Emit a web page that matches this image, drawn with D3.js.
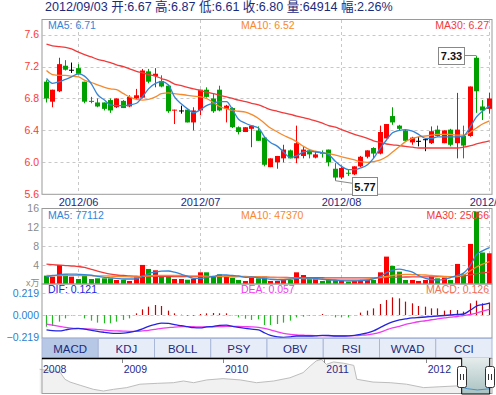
<!DOCTYPE html>
<html><head><meta charset="utf-8">
<script src="https://cdn.jsdelivr.net/npm/d3@7"></script>
<style>
body{margin:0;background:#fff;}
svg{display:block;font-family:"Liberation Sans",Arial,"Noto Sans CJK SC",sans-serif;}
</style>
</head><body>
<svg id="c" width="496" height="395"></svg>
<script>
// ---------- DATA ----------
const dates = [
"2012/05/25","2012/05/28","2012/05/29","2012/05/30","2012/05/31",
"2012/06/01","2012/06/04","2012/06/05","2012/06/06","2012/06/07","2012/06/08","2012/06/11","2012/06/12","2012/06/13","2012/06/14","2012/06/15","2012/06/18","2012/06/19","2012/06/20","2012/06/21","2012/06/25","2012/06/26","2012/06/27","2012/06/28",
"2012/07/02","2012/07/03","2012/07/04","2012/07/05","2012/07/06","2012/07/09","2012/07/10","2012/07/11","2012/07/12","2012/07/13","2012/07/16","2012/07/17","2012/07/18","2012/07/19","2012/07/20","2012/07/23","2012/07/24","2012/07/25","2012/07/26","2012/07/27","2012/07/30","2012/07/31",
"2012/08/01","2012/08/02","2012/08/03","2012/08/06","2012/08/07","2012/08/08","2012/08/09","2012/08/10","2012/08/13","2012/08/14","2012/08/15","2012/08/16","2012/08/17","2012/08/20","2012/08/21","2012/08/22","2012/08/23","2012/08/24","2012/08/27","2012/08/28","2012/08/29","2012/08/30","2012/08/31",
"2012/09/03"];
const openP = [7.01,6.76,6.89,7.21,7.16,7.18,7.01,6.77,6.75,6.75,6.78,6.69,6.77,6.70,6.80,6.81,7.14,7.08,7.02,6.96,
6.65,6.65,6.66,6.50,6.65,6.91,6.80,6.91,6.67,6.68,6.44,6.38,6.42,6.40,6.31,5.94,6.00,6.05,6.15,6.05,
6.08,6.15,6.06,6.12,6.16,5.92,5.81,5.87,5.85,5.95,6.07,6.18,6.11,6.30,6.58,6.46,6.40,6.25,6.27,6.29,
6.24,6.41,6.24,6.41,6.24,6.33,6.33,7.31,6.70,6.67];
const highP = [7.03,6.91,7.31,7.28,7.25,7.23,7.01,6.82,6.80,6.75,6.80,6.80,6.78,6.84,6.92,7.17,7.17,7.18,7.09,6.97,
6.66,6.71,6.66,6.69,6.91,6.94,6.86,6.96,6.72,6.69,6.45,6.44,6.46,6.45,6.32,6.05,6.08,6.22,6.16,6.46,
6.20,6.16,6.14,6.15,6.16,5.99,5.96,5.91,5.95,6.08,6.15,6.19,6.46,6.48,6.69,6.47,6.41,6.32,6.32,6.30,
6.45,6.46,6.40,6.42,6.87,6.46,6.95,7.33,6.78,6.87];
const lowP = [6.75,6.69,6.88,7.15,7.12,7.10,6.74,6.74,6.69,6.65,6.62,6.68,6.68,6.69,6.78,6.80,6.99,6.94,6.94,6.62,
6.48,6.61,6.50,6.40,6.59,6.81,6.62,6.64,6.50,6.43,6.35,6.38,6.19,6.27,5.95,5.94,5.92,6.00,6.05,5.99,
6.05,6.05,6.05,6.06,5.95,5.77,5.79,5.83,5.84,5.94,6.05,6.05,6.10,6.30,6.47,6.40,6.26,6.22,6.20,6.14,
6.23,6.32,6.24,6.20,6.05,6.05,6.32,6.62,6.53,6.61];
const closeP = [6.80,6.91,7.23,7.16,7.16,7.11,6.76,6.76,6.70,6.67,6.65,6.80,6.68,6.82,6.84,7.15,7.01,7.11,6.95,6.64,
6.66,6.65,6.50,6.65,6.91,6.82,6.64,6.65,6.71,6.44,6.38,6.44,6.46,6.27,5.97,6.05,6.08,6.16,6.05,6.24,
6.16,6.10,6.10,6.11,6.00,5.81,5.93,5.86,5.95,6.07,6.15,6.11,6.38,6.48,6.50,6.42,6.27,6.31,6.27,6.29,
6.39,6.33,6.40,6.22,6.41,6.21,6.95,6.89,6.65,6.80];
const ma5 = [7.05,6.99,7.01,7.04,7.07,7.11,7.08,6.98,6.85,6.78,6.72,6.71,6.71,6.72,6.74,6.82,6.92,6.99,7.01,6.97,
6.82,6.73,6.67,6.62,6.66,6.71,6.74,6.76,6.76,6.66,6.54,6.49,6.46,6.43,6.32,6.25,6.20,6.13,6.06,6.08,
6.13,6.14,6.13,6.12,6.10,6.01,5.95,5.91,5.91,5.93,5.97,6.05,6.18,6.28,6.37,6.40,6.41,6.39,6.35,6.30,
6.30,6.32,6.32,6.32,6.32,6.33,6.45,6.57,6.64,6.71];
const ma10 = [7.15,7.10,7.09,7.09,7.08,7.07,7.03,7.00,6.97,6.94,6.92,6.91,6.86,6.82,6.79,6.78,6.79,6.82,6.86,6.87,
6.86,6.85,6.84,6.83,6.82,6.80,6.75,6.70,6.67,6.65,6.64,6.63,6.60,6.55,6.49,6.43,6.38,6.34,6.30,6.26,
6.20,6.16,6.14,6.12,6.11,6.09,6.07,6.05,6.03,6.01,6.00,6.01,6.03,6.07,6.13,6.20,6.26,6.30,6.32,6.33,
6.34,6.35,6.35,6.35,6.34,6.34,6.38,6.43,6.48,6.52];
const ma30 = [7.48,7.46,7.45,7.44,7.42,7.38,7.35,7.32,7.29,7.27,7.25,7.22,7.20,7.17,7.14,7.12,7.10,7.08,7.05,7.02,
6.98,6.96,6.94,6.92,6.90,6.88,6.86,6.84,6.82,6.80,6.78,6.76,6.74,6.72,6.69,6.66,6.64,6.62,6.60,6.58,
6.56,6.54,6.52,6.49,6.46,6.44,6.41,6.38,6.35,6.33,6.30,6.27,6.25,6.23,6.22,6.21,6.20,6.19,6.18,6.18,
6.18,6.18,6.18,6.18,6.18,6.19,6.21,6.23,6.25,6.27];
// volume in 万 shares
const volume = [1.77,1.55,4.03,2.05,1.55,1.06,1.77,1.06,1.20,1.20,1.20,0.85,0.90,0.64,1.55,4.03,3.18,2.90,1.55,1.55,
1.06,1.06,0.90,1.06,2.47,2.47,1.55,2.05,1.77,1.30,0.85,0.64,1.35,1.20,1.55,0.64,0.64,0.85,0.85,2.47,
1.90,1.20,1.20,0.64,0.85,0.85,0.85,0.50,0.64,0.85,0.85,0.85,2.47,5.79,3.82,2.61,0.85,0.85,0.64,0.85,
1.55,1.20,1.35,0.85,4.24,2.05,8.47,15.30,6.66,6.4914];
const volMa5 = [1.55,1.80,1.95,2.10,2.10,2.05,2.00,1.85,1.60,1.40,1.30,1.20,1.06,1.06,1.10,1.60,2.20,2.50,2.70,2.75,
2.50,2.05,1.60,1.20,1.20,1.40,1.60,1.90,1.90,1.80,1.70,1.40,1.50,1.30,1.20,1.00,0.90,0.90,1.00,1.20,
1.30,1.25,1.20,1.00,0.90,0.80,0.70,0.65,0.65,0.70,0.80,1.10,1.60,2.40,2.90,3.15,2.90,2.50,1.80,1.20,
0.95,0.85,1.00,1.35,1.80,2.30,4.00,6.20,7.00,7.7112];
const volMa10 = [1.80,1.78,1.78,1.80,1.82,1.80,1.78,1.75,1.72,1.72,1.68,1.62,1.55,1.50,1.45,1.60,1.72,1.80,1.82,1.84,
1.80,1.80,1.75,1.70,1.70,1.65,1.60,1.60,1.60,1.57,1.60,1.60,1.55,1.50,1.45,1.40,1.35,1.30,1.25,1.20,
1.15,1.10,1.06,1.00,0.95,0.90,0.85,0.85,0.85,0.90,1.00,1.20,1.40,1.60,1.80,1.95,2.05,2.00,1.95,1.90,
1.80,1.70,1.60,1.55,1.55,1.90,2.80,3.60,4.20,4.7370];
const volMa30 = [4.20,4.10,4.00,3.90,3.80,3.70,3.50,3.10,2.70,2.35,2.10,1.90,1.80,1.70,1.65,1.60,1.60,1.60,1.60,1.60,
1.58,1.58,1.56,1.56,1.56,1.56,1.56,1.56,1.56,1.56,1.56,1.55,1.50,1.48,1.45,1.42,1.40,1.38,1.36,1.35,
1.35,1.34,1.33,1.32,1.31,1.30,1.30,1.30,1.30,1.30,1.30,1.30,1.32,1.38,1.42,1.45,1.48,1.50,1.50,1.50,
1.52,1.54,1.55,1.55,1.58,1.70,1.95,2.20,2.35,2.5066];
const dif = [-0.151,-0.158,-0.160,-0.150,-0.140,-0.135,-0.142,-0.155,-0.165,-0.175,-0.183,-0.185,-0.183,-0.175,-0.160,-0.140,-0.115,-0.095,-0.082,-0.085,
-0.098,-0.108,-0.118,-0.128,-0.130,-0.120,-0.115,-0.105,-0.103,-0.115,-0.125,-0.135,-0.142,-0.150,-0.180,-0.205,-0.220,-0.225,-0.220,-0.212,
-0.212,-0.212,-0.210,-0.205,-0.207,-0.212,-0.212,-0.210,-0.205,-0.195,-0.180,-0.160,-0.125,-0.095,-0.070,-0.050,-0.040,-0.030,-0.025,-0.020,
-0.015,-0.010,-0.005,0.000,0.005,0.010,0.050,0.090,0.105,0.121];
const dea = [-0.092,-0.103,-0.115,-0.125,-0.133,-0.137,-0.140,-0.143,-0.147,-0.152,-0.158,-0.160,-0.163,-0.165,-0.165,-0.160,-0.155,-0.145,-0.135,-0.128,
-0.122,-0.118,-0.117,-0.118,-0.120,-0.120,-0.119,-0.117,-0.115,-0.115,-0.116,-0.118,-0.120,-0.125,-0.135,-0.150,-0.170,-0.185,-0.195,-0.200,
-0.204,-0.207,-0.208,-0.208,-0.208,-0.210,-0.210,-0.210,-0.208,-0.205,-0.200,-0.190,-0.172,-0.150,-0.130,-0.115,-0.095,-0.080,-0.068,-0.058,
-0.048,-0.040,-0.030,-0.022,-0.015,-0.005,0.005,0.020,0.040,0.057];
const macd = [-0.118,-0.111,-0.067,-0.034,-0.005,-0.003,-0.034,-0.057,-0.077,-0.084,-0.084,-0.067,-0.050,-0.034,0.017,0.057,0.084,0.101,0.091,0.044,
0.017,0.003,-0.010,-0.010,0.010,0.017,0.020,0.017,0.017,-0.003,-0.024,-0.037,-0.050,-0.044,-0.101,-0.101,-0.091,-0.077,-0.057,-0.024,
-0.017,-0.007,-0.003,0.010,-0.003,-0.024,-0.024,-0.024,-0.003,0.024,0.044,0.067,0.111,0.151,0.178,0.168,0.135,0.118,0.091,0.084,
0.067,0.067,0.044,0.050,0.050,0.034,0.118,0.145,0.118,0.126];
const monthTicks = ["2012/06","2012/07","2012/08","2012/09"];
const priceTicks = [5.6,6.0,6.4,6.8,7.2,7.6];
const volTicks = [4,8,12,16];
const macdTicks = [-0.219,0,0.219];
const tabs = ["MACD","KDJ","BOLL","PSY","OBV","RSI","WVAD","CCI"];
const navYears = [2008.19,2008.29,2008.39,2008.44,2008.49,2008.59,2008.72,2008.82,2008.92,2009.05,2009.18,2009.35,2009.51,2009.61,2009.71,2009.84,2010.00,2010.17,2010.33,2010.50,
2010.66,2010.79,2010.86,2010.92,2010.97,2011.02,2011.09,2011.19,2011.29,2011.32,2011.48,2011.65,2011.81,2011.98,2012.14,2012.31,2012.41,2012.51,2012.64];
const navValues = [15.7,14.9,14.4,11.0,9.7,8.2,6.3,5.5,6.3,7.1,8.7,9.1,9.4,10.2,9.4,10.7,11.3,10.7,9.4,10.2,
11.7,14.1,17.2,19.6,20.3,18.0,19.1,18.5,17.5,11.0,9.7,9.4,8.7,7.1,7.5,7.9,6.6,6.0,6.6];
const navTickYears = [2008,2009,2010,2011,2012];
const navWindow = [2012.355,2012.632];

// ---------- SETUP ----------
const svg = d3.select("#c");
const L = 42.5, R = 492;
const RED = "#ff0000", GREEN = "#00a000";
const cMA5 = "#3484d8", cMA10 = "#f7892a", cMA30 = "#f23a3a";
const navy = "#1c2a7c";
const n = dates.length;
const x = d3.scaleBand().domain(dates).range([L, R]);
const cx = d => Math.round(x(d) + x.bandwidth()/2) + 0.5;
const yP = d3.scaleLinear().domain([5.6, 7.6]).range([194.3, 34.6]);
const yV = d3.scaleLinear().domain([0, 16]).range([284, 208.3]);
const yM = d3.scaleLinear().domain([-0.219, 0.219]).range([336.7, 293.3]);
const firstOfMonth = monthTicks.map(m => dates.find(d => d.startsWith(m))).filter(Boolean);

function dashedGrid(g, yScale, vals, y0, y1) {
  g.selectAll(null).data(vals).enter().append("line")
    .attr("x1", L).attr("x2", R)
    .attr("y1", d => Math.round(yScale(d)) + 0.5).attr("y2", d => Math.round(yScale(d)) + 0.5)
    .attr("stroke", "#c8c8c8").attr("stroke-dasharray", "3,3");
  if (y0 !== undefined) {
    g.selectAll(null).data(firstOfMonth).enter().append("line")
      .attr("x1", d => cx(d)).attr("x2", d => cx(d))
      .attr("y1", y0).attr("y2", y1)
      .attr("stroke", "#c8c8c8").attr("stroke-dasharray", "3,3");
  }
}
function leftAxis(scale, vals, fmt, color, size) {
  const g = svg.append("g").attr("transform", `translate(${L - 0.5},0)`)
    .call(d3.axisLeft(scale).tickValues(vals).tickFormat(fmt).tickSize(0).tickPadding(3));
  g.select(".domain").remove();
  g.selectAll("text").attr("fill", color).attr("font-size", size).attr("font-family", "Liberation Sans, Arial, sans-serif");
  return g;
}
const fmtNum = d3.format(".2f");
const last = n - 1;

// ---------- HEADER ----------
const chg = (closeP[last] - closeP[last - 1]) / closeP[last - 1] * 100;
const header = svg.append("text").attr("x", 45).attr("y", 10.5).attr("font-size", 12).attr("fill", navy)
  .text(`${dates[last]} 开:${fmtNum(openP[last])} 高:${fmtNum(highP[last])} 低:${fmtNum(lowP[last])} 收:${fmtNum(closeP[last])} 量:${Math.round(volume[last]*10000)} 幅:${chg.toFixed(2)}%`);
{
  const w = header.node().getComputedTextLength();
  if (w > 0) header.attr("font-size", Math.min(14, 12 * 348 / w));
}

// ---------- PRICE PANEL ----------
const gp = svg.append("g");
dashedGrid(gp, yP, priceTicks.filter(v => v > 5.6), 20, 194);
gp.append("rect").attr("x", L - 0.5).attr("y", 19.5).attr("width", R - L + 0.5).attr("height", 174.8)
  .attr("fill", "none").attr("stroke", "#9a9a9a");
leftAxis(yP, priceTicks, d3.format(".1f"), "#ff3838", 10.5);

const candles = gp.selectAll(".cd").data(dates).enter().append("g");
const ccol = i => closeP[i] > openP[i] ? RED : (closeP[i] < openP[i] ? GREEN : "#000");
candles.append("line")
  .attr("x1", d => cx(d)).attr("x2", d => cx(d))
  .attr("y1", (d, i) => yP(highP[i])).attr("y2", (d, i) => yP(lowP[i]))
  .attr("stroke", (d, i) => ccol(i));
candles.append("rect")
  .attr("x", d => cx(d) - 2.5).attr("width", 5)
  .attr("y", (d, i) => Math.min(yP(openP[i]), yP(closeP[i])))
  .attr("height", (d, i) => Math.max(1, Math.abs(yP(openP[i]) - yP(closeP[i]))))
  .attr("fill", (d, i) => ccol(i));

const priceLine = arr => d3.line().x((d, i) => cx(dates[i])).y(d => yP(d)).curve(d3.curveMonotoneX)(arr);
[[ma30, cMA30], [ma10, cMA10], [ma5, cMA5]].forEach(([a, c]) =>
  gp.append("path").attr("d", priceLine(a)).attr("fill", "none").attr("stroke", c).attr("stroke-width", 1.3));

// labels
gp.append("text").attr("x", 48).attr("y", 28.5).attr("font-size", 10.5).attr("fill", cMA5).text(`MA5: ${fmtNum(ma5[last])}`);
gp.append("text").attr("x", 241).attr("y", 28.5).attr("font-size", 10.5).attr("fill", cMA10).text(`MA10: ${fmtNum(ma10[last])}`);
gp.append("text").attr("x", 489).attr("y", 28.5).attr("font-size", 10.5).attr("fill", cMA30).attr("text-anchor", "end").text(`MA30: ${fmtNum(ma30[last])}`);

// max / min annotations
const iMax = d3.maxIndex(highP), iMin = d3.minIndex(lowP);
{
  const hx = cx(dates[iMax]), hy = yP(highP[iMax]);
  const bx = hx - 39, by = hy - 9.5;
  gp.append("line").attr("x1", bx + 26).attr("x2", hx).attr("y1", Math.round(hy) - 0.5).attr("y2", Math.round(hy) - 0.5).attr("stroke", "#888");
  gp.append("rect").attr("x", Math.round(bx) + 0.5).attr("y", Math.round(by) + 0.5).attr("width", 26).attr("height", 17)
    .attr("fill", "#fff").attr("stroke", "#888");
  gp.append("text").attr("x", Math.round(bx) + 13.5).attr("y", Math.round(by) + 13).attr("text-anchor", "middle")
    .attr("font-size", 11).attr("font-weight", "bold").attr("fill", "#111").text(highP[iMax].toFixed(2));
}
{
  const lx = cx(dates[iMin]), ly = yP(lowP[iMin]);
  const bx = lx + 16.5, by = ly - 4;
  gp.append("line").attr("x1", lx).attr("x2", bx).attr("y1", ly).attr("y2", ly + 2.5).attr("stroke", "#888");
  gp.append("rect").attr("x", Math.round(bx) + 0.5).attr("y", Math.round(by) + 0.5).attr("width", 25).attr("height", 18)
    .attr("fill", "#fff").attr("stroke", "#888");
  gp.append("text").attr("x", Math.round(bx) + 13).attr("y", Math.round(by) + 14).attr("text-anchor", "middle")
    .attr("font-size", 11).attr("font-weight", "bold").attr("fill", "#111").text(lowP[iMin].toFixed(2));
}

// date axis
{
  const g = svg.append("g").attr("transform", "translate(0,194)")
    .call(d3.axisBottom(x).tickValues(firstOfMonth).tickFormat(d => d.slice(0, 7)).tickSize(0).tickPadding(4));
  g.select(".domain").remove();
  g.selectAll(".tick").attr("transform", d => `translate(${cx(d)},0)`);
  g.selectAll("text").attr("fill", navy).attr("font-size", 11).attr("font-family", "Liberation Sans, Arial, sans-serif");
}

// ---------- VOLUME PANEL ----------
const gv = svg.append("g");
dashedGrid(gv, yV, [4, 8, 12], 209, 284);
gv.selectAll(".vb").data(dates).enter().append("rect")
  .attr("x", d => cx(d) - 2.5).attr("width", 5)
  .attr("y", (d, i) => yV(volume[i])).attr("height", (d, i) => yV(0) - yV(volume[i]))
  .attr("fill", (d, i) => closeP[i] >= openP[i] ? RED : GREEN);
const volLine = arr => d3.line().x((d, i) => cx(dates[i])).y(d => yV(d)).curve(d3.curveMonotoneX)(arr);
[[volMa30, cMA30], [volMa10, cMA10], [volMa5, cMA5]].forEach(([a, c]) =>
  gv.append("path").attr("d", volLine(a)).attr("fill", "none").attr("stroke", c).attr("stroke-width", 1.3));
gv.append("rect").attr("x", L - 0.5).attr("y", 208.5).attr("width", R - L + 0.5).attr("height", 75.5)
  .attr("fill", "none").attr("stroke", "#9a9a9a");
leftAxis(yV, volTicks, d3.format("d"), "#8a8a8a", 10.5);
svg.append("text").attr("x", 39.5).attr("y", 286).attr("text-anchor", "end").attr("font-size", 9).attr("fill", "#8a8a8a").text("x万");
gv.append("text").attr("x", 48).attr("y", 219).attr("font-size", 10.5).attr("fill", cMA5).text(`MA5: ${Math.round(volMa5[last]*10000)}`);
gv.append("text").attr("x", 241).attr("y", 219).attr("font-size", 10.5).attr("fill", cMA10).text(`MA10: ${Math.round(volMa10[last]*10000)}`);
gv.append("text").attr("x", 489).attr("y", 219).attr("font-size", 10.5).attr("fill", cMA30).attr("text-anchor", "end").text(`MA30: ${Math.round(volMa30[last]*10000)}`);

// ---------- MACD PANEL ----------
const gm = svg.append("g");
dashedGrid(gm, yM, [0.219, 0]);
gm.selectAll(".mb").data(dates).enter().append("line")
  .attr("x1", d => cx(d)).attr("x2", d => cx(d))
  .attr("y1", yM(0)).attr("y2", (d, i) => yM(macd[i]))
  .attr("stroke", (d, i) => macd[i] >= 0 ? "#cc0000" : "#22bb22").attr("stroke-width", 1.2);
const mLine = arr => d3.line().x((d, i) => cx(dates[i])).y(d => yM(d)).curve(d3.curveMonotoneX)(arr);
gm.append("path").attr("d", mLine(dea)).attr("fill", "none").attr("stroke", "#f03cf0").attr("stroke-width", 1.3);
gm.append("path").attr("d", mLine(dif)).attr("fill", "none").attr("stroke", "#2424e0").attr("stroke-width", 1.3);
gm.append("rect").attr("x", L - 0.5).attr("y", 284).attr("width", R - L + 0.5).attr("height", 54)
  .attr("fill", "none").attr("stroke", "#9a9a9a");
leftAxis(yM, macdTicks, d3.format(".3f"), "#2a7fd0", 10.5);
gm.append("text").attr("x", 48).attr("y", 292.7).attr("font-size", 10.5).attr("fill", "#2424e0").text(`DIF: ${dif[last].toFixed(3)}`);
gm.append("text").attr("x", 241).attr("y", 292.7).attr("font-size", 10.5).attr("fill", "#f03cf0").text(`DEA: ${dea[last].toFixed(3)}`);
gm.append("text").attr("x", 489).attr("y", 292.7).attr("font-size", 10.5).attr("fill", "#ee7055").attr("text-anchor", "end").text(`MACD: ${macd[last].toFixed(3)}`);

// ---------- TABS ----------
const tw = (R - L + 0.5) / tabs.length;
const gt = svg.append("g");
gt.selectAll("rect").data(tabs).enter().append("rect")
  .attr("x", (d, i) => L - 0.5 + i * tw).attr("y", 338.5).attr("width", tw).attr("height", 19.5)
  .attr("fill", (d, i) => i === 0 ? "#b7c7e6" : "#e7edf8").attr("stroke", "#a9b8d8");
gt.selectAll("text").data(tabs).enter().append("text")
  .attr("x", (d, i) => L - 0.5 + i * tw + tw / 2).attr("y", 352.5).attr("text-anchor", "middle")
  .attr("font-size", 11.5).attr("fill", navy).text(d => d);

// ---------- NAVIGATOR ----------
const gn = svg.append("g");
const xN = d3.scaleLinear().domain([2009, 2012]).range([121.7, 425.7]);
const yN = d3.scaleLinear().domain([5, 21]).range([392.1, 357.9]);
const navPts = navYears.map((t, i) => [t, navValues[i]]);
gn.append("path").attr("d", d3.area().x(d => xN(d[0])).y0(393.5).y1(d => yN(d[1]))(navPts)).attr("fill", "#f1f1f1");
gn.append("path").attr("d", d3.line().x(d => xN(d[0])).y(d => yN(d[1]))(navPts)).attr("fill", "none").attr("stroke", "#bdbdbd");
gn.append("rect").attr("x", L - 0.5).attr("y", 358.5).attr("width", R - L + 0.5).attr("height", 35)
  .attr("fill", "none").attr("stroke", "#a0a0a0");
const sx0 = xN(navWindow[0]), sx1 = xN(navWindow[1]);
gn.append("line").attr("x1", L - 0.5).attr("x2", sx0).attr("y1", 358.5).attr("y2", 358.5).attr("stroke", "#000").attr("stroke-width", 1.5);
gn.selectAll(".nt").data(navTickYears.filter(t => xN(t) > L)).enter().append("line")
  .attr("x1", d => Math.round(xN(d)) + 0.5).attr("x2", d => Math.round(xN(d)) + 0.5)
  .attr("y1", 359).attr("y2", 363).attr("stroke", "#888");
gn.selectAll(".nl").data(navTickYears).enter().append("text")
  .attr("x", d => Math.max(xN(d) + 2, 43)).attr("y", 373).attr("font-size", 10.5).attr("fill", "#2a2a88").text(d => d);
// selection
const defs = svg.append("defs");
const gr = defs.append("linearGradient").attr("id", "sel").attr("x1", 0).attr("x2", 0).attr("y1", 0).attr("y2", 1);
gr.append("stop").attr("offset", "0%").attr("stop-color", "#e6ecec");
gr.append("stop").attr("offset", "100%").attr("stop-color", "#a9c2c2");
gn.append("rect").attr("x", sx0).attr("y", 358).attr("width", sx1 - sx0).attr("height", 36).attr("fill", "url(#sel)");
defs.append("clipPath").attr("id", "selclip").append("rect").attr("x", sx0).attr("y", 358).attr("width", sx1 - sx0).attr("height", 36);
gn.append("path").attr("d", d3.line().x(d => xN(d[0])).y(d => yN(d[1]))(navPts)).attr("fill", "none")
  .attr("stroke", "#4a90c8").attr("clip-path", "url(#selclip)");
gn.append("path").attr("d", `M${sx0},358 V394 H${sx1} V358`).attr("fill", "none").attr("stroke", "#000");
[sx0, sx1].forEach(hx => {
  gn.append("rect").attr("x", Math.round(hx) - 4.5).attr("y", 366.5).attr("width", 9).attr("height", 21).attr("rx", 2)
    .attr("fill", "#fff").attr("stroke", "#333");
  [-1.5, 1.5].forEach(o => gn.append("line").attr("x1", Math.round(hx) + o).attr("x2", Math.round(hx) + o)
    .attr("y1", 374).attr("y2", 380).attr("stroke", "#333"));
});
</script>
</body></html>
